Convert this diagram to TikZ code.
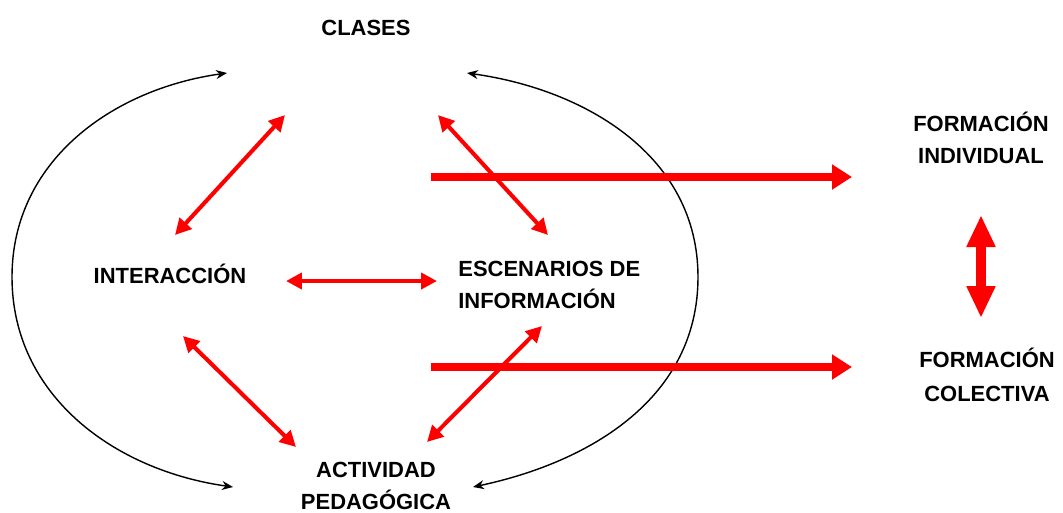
\documentclass[tikz,border=0pt]{standalone}
\usepackage{fontspec}
\setmainfont{Liberation Sans}
\usepackage{tikz}
\usetikzlibrary{arrows.meta}
\definecolor{linkred}{RGB}{255,0,0}
\newcommand{\lblfont}{\bfseries\fontsize{12.5}{18.2}\selectfont}
\tikzset{lbl/.style={font=\lblfont, inner sep=0pt}}
\tikzset{link/.style={linkred, line width=2.3pt, {Triangle[length=3.2mm,width=3.2mm]}-{Triangle[length=3.2mm,width=3.2mm]}}}
\tikzset{flow/.style={linkred, line width=4.6pt, -{Triangle[length=4mm,width=4.8mm]}}}
\tikzset{swap/.style={linkred, line width=5.6pt, {Triangle[length=6.4mm,width=5.4mm]}-{Triangle[length=6.4mm,width=5.4mm]}}}
\tikzset{cycle/.style={black, line width=0.8pt, {Stealth[length=2.2mm,width=1.8mm]}-{Stealth[length=2.2mm,width=1.8mm]}}}

\begin{document}
\begin{tikzpicture}[x=0.02cm, y=-0.02cm]
  \useasboundingbox (0,0) rectangle (1063,512);

  % --- labels ---
  \node[lbl, anchor=base] (clases) at (366,35) {CLASES};
  \node[lbl, anchor=base] (inter) at (170,283) {INTERACCIÓN};
  \node[lbl, anchor=base west, align=left] (esc) at (458,308) {ESCENARIOS DE\\INFORMACIÓN};
  \node[lbl, anchor=base, align=center] (act) at (376,509) {ACTIVIDAD\\PEDAGÓGICA};
  \node[lbl, anchor=base, align=center] (find) at (981,163) {FORMACIÓN\\INDIVIDUAL};
  \node[lbl, anchor=base, align=center] (fcol) at (987,401) {FORMACIÓN\\[1pt]COLECTIVA};

  % --- outer cycle ---
  \coordinate (top-l) at (227,73);
  \coordinate (mid-l) at (12,277);
  \coordinate (bot-l) at (233,487);
  \coordinate (top-r) at (467,73);
  \coordinate (mid-r) at (698,277);
  \coordinate (bot-r) at (473,487);
  \draw[cycle] (top-l) to[out=188, in=90] (mid-l) to[out=-90, in=172] (bot-l);
  \draw[cycle] (top-r) to[out=-8, in=90] (mid-r) to[out=-90, in=12] (bot-r);

  % --- links between the four ---
  \coordinate (cl-l) at (285,115);
  \coordinate (in-t) at (175,235);
  \coordinate (cl-r) at (438,115);
  \coordinate (es-t) at (548,235);
  \coordinate (in-r) at (286,281);
  \coordinate (es-l) at (437,281);
  \coordinate (in-b) at (183,336);
  \coordinate (ac-l) at (296,447);
  \coordinate (es-b) at (542,326);
  \coordinate (ac-r) at (427,442);
  \draw[link] (cl-l) -- (in-t);
  \draw[link] (cl-r) -- (es-t);
  \draw[link] (in-r) -- (es-l);
  \draw[link] (in-b) -- (ac-l);
  \draw[link] (es-b) -- (ac-r);

  % --- towards formation ---
  \coordinate (fl-a) at (431,177);
  \coordinate (fl-b) at (431,367);
  \coordinate (to-find) at (852,177);
  \coordinate (to-fcol) at (852,367);
  \draw[flow] (fl-a) -- (to-find);
  \draw[flow] (fl-b) -- (to-fcol);

  \coordinate (find-b) at (981,215);
  \coordinate (fcol-t) at (981,318);
  \draw[swap] (find-b) -- (fcol-t);
\end{tikzpicture}
\end{document}
